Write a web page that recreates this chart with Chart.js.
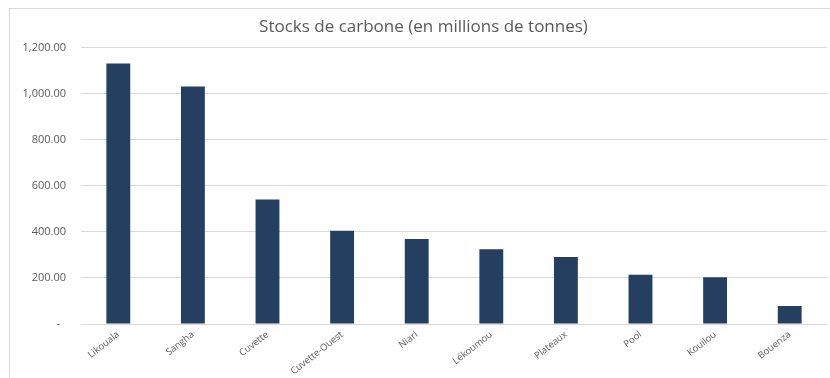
<!DOCTYPE html>
<html>
<head>
<meta charset="utf-8">
<script src="https://cdn.jsdelivr.net/npm/chart.js@4/dist/chart.umd.min.js"></script>
<style>
  html, body { margin: 0; padding: 0; background: #fff; }
  #wrap { width: 830px; height: 378px; }
</style>
</head>
<body>
<div id="wrap"><canvas id="stocksChart" width="830" height="378"></canvas></div>
<script>
// carbon stocks per department, millions of tonnes
var regions = ['Likouala', 'Sangha', 'Cuvette', 'Cuvette-Ouest', 'Niari', 'Lékoumou', 'Plateaux', 'Pool', 'Kouilou', 'Bouenza'];
var stocks = [1130, 1030, 540, 405, 369, 324, 291, 214, 203, 78];
var yTicks = [0, 200, 400, 600, 800, 1000, 1200];

var chartTitle = 'Stocks de carbone (en millions de tonnes)';

// light frame around the chart (left and top edges visible)
var frame = {
    id: 'frame',
    beforeDraw: function (chart) {
        var ctx = chart.ctx;
        ctx.save();
        ctx.fillStyle = '#fff';
        ctx.fillRect(0, 0, chart.width, chart.height);
        ctx.strokeStyle = '#d9d9d9';
        ctx.lineWidth = 1;
        ctx.strokeRect(9.5, 8.5, chart.width, chart.height);
        ctx.restore();
    }
};

window.InitializeStocksChart = function () {
    var context = document.getElementById('stocksChart').getContext('2d');
    return new Chart(context, {
        type: 'bar',
        data: {
            labels: regions,
            datasets: [{
                label: 'Stocks',
                backgroundColor: '#253f61',
                data: stocks,
                barPercentage: 0.32,
                categoryPercentage: 1
            }]
        },
        options: {
            responsive: false,
            animation: false,
            layout: { padding: { left: 20, right: 3, top: 0, bottom: 0 } },
            plugins: {
                legend: { display: false },
                tooltip: { enabled: false },
                title: {
                    display: true,
                    text: chartTitle,
                    color: '#595959',
                    font: { family: 'Open Sans', size: 17, weight: 'normal' },
                    padding: { top: 17, bottom: 10 }
                }
            },
            scales: {
                x: {
                    grid: { display: false, drawTicks: false },
                    border: { display: false },
                    ticks: {
                        color: '#595959',
                        font: { family: 'Open Sans', size: 9.5 },
                        minRotation: 38,
                        maxRotation: 38,
                        padding: 5
                    },
                    afterFit: function (scale) { scale.height = 54; }
                },
                y: {
                    min: 0,
                    max: 1200,
                    afterBuildTicks: function (scale) {
                        scale.ticks = yTicks.map(function (v) { return { value: v }; });
                    },
                    grid: { color: '#d9d9d9', drawTicks: false },
                    border: { display: false },
                    ticks: {
                        color: '#595959',
                        font: { family: 'Open Sans', size: 11 },
                        padding: 15,
                        callback: function (value) {
                            if (value === 0) return '-  ';
                            return value.toLocaleString('en-US', { minimumFractionDigits: 2, maximumFractionDigits: 2 });
                        }
                    },
                    afterFit: function (scale) { scale.width = 61; }
                }
            }
        },
        plugins: [frame]
    });
};

var stocksChart = window.InitializeStocksChart();
</script>
</body>
</html>
